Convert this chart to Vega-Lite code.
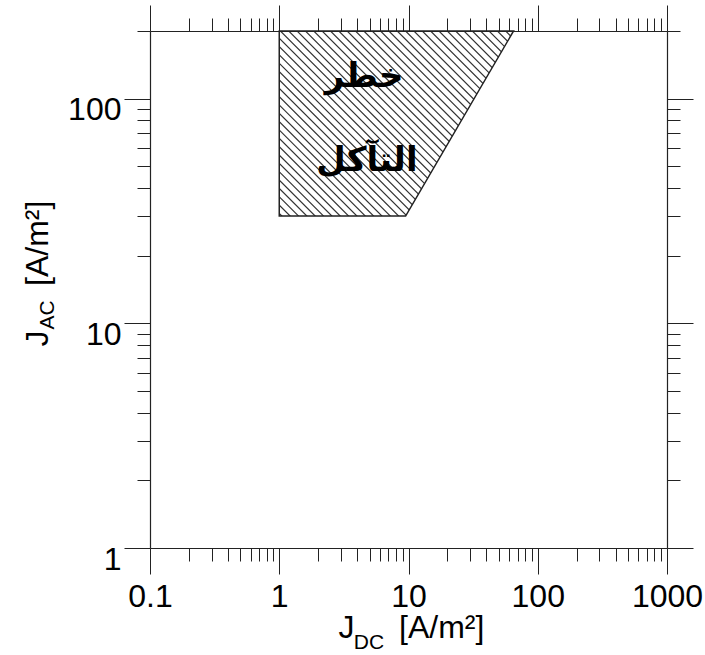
{
  "$schema": "https://vega.github.io/schema/vega-lite/v6.json",
  "width": 517,
  "height": 517,
  "autosize": {"type": "none"},
  "padding": {"left": 150, "top": 31, "right": 38, "bottom": 107},
  "background": "white",
  "config": {"view": {"stroke": null}},
  "data": {"values": [{}]},
  "datasets": {
    "region": [
      {"jac": 30, "jdc_lo": 1, "jdc_hi": 9.5},
      {"jac": 200, "jdc_lo": 1, "jdc_hi": 65}
    ]
  },
  "resolve": {"axis": {"x": "independent", "y": "independent"}},
  "layer": [
    {
      "mark": {"type": "rule", "stroke": "#333", "strokeWidth": 320, "strokeDash": [1.2, 4.7], "strokeCap": "butt", "clip": true},
      "encoding": {
        "x": {"datum": 0.94, "type": "quantitative", "scale": {"type": "log", "domain": [0.1, 1000], "nice": false}, "axis": null},
        "y": {"datum": 22.5, "type": "quantitative", "scale": {"type": "log", "domain": [1, 200], "nice": false}, "axis": null},
        "x2": {"datum": 68.1},
        "y2": {"datum": 264.4}
      }
    },
    {
      "mark": {"type": "rect", "fill": "white", "stroke": null},
      "encoding": {
        "x": {"datum": 0.1, "type": "quantitative", "scale": {"type": "log", "domain": [0.1, 1000], "nice": false}, "axis": null},
        "x2": {"datum": 1},
        "y": {"datum": 1, "type": "quantitative", "scale": {"type": "log", "domain": [1, 200], "nice": false}, "axis": null},
        "y2": {"datum": 200}
      }
    },
    {
      "mark": {"type": "rect", "fill": "white", "stroke": null},
      "encoding": {
        "x": {"datum": 0.1, "type": "quantitative", "scale": {"type": "log", "domain": [0.1, 1000], "nice": false}, "axis": null},
        "x2": {"datum": 1000},
        "y": {"datum": 1, "type": "quantitative", "scale": {"type": "log", "domain": [1, 200], "nice": false}, "axis": null},
        "y2": {"datum": 30}
      }
    },
    {
      "data": {"name": "region"},
      "mark": {"type": "area", "orient": "horizontal", "fill": "white", "stroke": null},
      "encoding": {
        "y": {"field": "jac", "type": "quantitative", "scale": {"type": "log", "domain": [1, 200], "nice": false}, "axis": null},
        "x": {"field": "jdc_hi", "type": "quantitative", "scale": {"type": "log", "domain": [0.1, 1000], "nice": false}, "axis": null},
        "x2": {"datum": 1000}
      }
    },
    {
      "data": {"name": "region"},
      "mark": {"type": "area", "orient": "horizontal", "fillOpacity": 0, "stroke": "#222", "strokeWidth": 1.5},
      "encoding": {
        "y": {
          "field": "jac", "type": "quantitative",
          "scale": {"type": "log", "domain": [1, 200], "nice": false},
          "axis": {
            "orient": "left",
            "values": [1, 2, 3, 4, 5, 6, 7, 8, 9, 10, 20, 30, 40, 50, 60, 70, 80, 90, 100, 200],
            "tickSize": {"condition": {"test": "indexof([1, 10, 100], datum.value) >= 0", "value": 26}, "value": 13},
            "tickColor": "#222",
            "tickWidth": 1,
            "domainColor": "#222",
            "domainWidth": 1.2,
            "grid": false,
            "labelExpr": "indexof([1, 10, 100], datum.value) >= 0 ? format(datum.value, '~g') : ''",
            "labelFont": "Liberation Sans",
            "labelFontSize": 32,
            "labelColor": "black",
            "labelPadding": 3,
            "labelBaseline": "top",
            "labelOffset": -4,
            "labelOverlap": false,
            "labelFlush": false,
            "labelBound": false,
            "title": "J\u00a0\u00a0\u00a0\u00a0\u00a0[A/m²]",
            "titleFont": "Liberation Sans",
            "titleFontSize": 32,
            "titleFontWeight": "normal",
            "titleColor": "black",
            "titleAngle": 270,
            "titleAlign": "center",
            "titleBaseline": "alphabetic",
            "titleX": -103,
            "titleY": 242,
            "zindex": 1
          }
        },
        "x": {
          "field": "jdc_lo", "type": "quantitative",
          "scale": {"type": "log", "domain": [0.1, 1000], "nice": false},
          "axis": {
            "orient": "bottom",
            "values": [0.1, 0.2, 0.3, 0.4, 0.5, 0.6, 0.7, 0.8, 0.9, 1, 2, 3, 4, 5, 6, 7, 8, 9, 10, 20, 30, 40, 50, 60, 70, 80, 90, 100, 200, 300, 400, 500, 600, 700, 800, 900, 1000],
            "tickSize": {"condition": {"test": "indexof([0.1, 1, 10, 100, 1000], datum.value) >= 0", "value": 26}, "value": 13},
            "tickColor": "#222",
            "tickWidth": 1,
            "domainColor": "#222",
            "domainWidth": 1.2,
            "grid": false,
            "labelExpr": "indexof([0.1, 1, 10, 100, 1000], datum.value) >= 0 ? format(datum.value, '~g') : ''",
            "labelFont": "Liberation Sans",
            "labelFontSize": 32,
            "labelColor": "black",
            "labelPadding": 7,
            "labelOverlap": false,
            "labelFlush": false,
            "labelBound": false,
            "title": "J\u00a0\u00a0\u00a0\u00a0\u00a0[A/m²]",
            "titleFont": "Liberation Sans",
            "titleFontSize": 32,
            "titleFontWeight": "normal",
            "titleColor": "black",
            "titleAlign": "center",
            "titleBaseline": "alphabetic",
            "titleX": 261,
            "titleY": 89,
            "zindex": 1
          }
        },
        "x2": {"field": "jdc_hi"}
      }
    },
    {
      "mark": {"type": "point", "opacity": 0},
      "encoding": {
        "x": {
          "datum": 1, "type": "quantitative",
          "scale": {"type": "log", "domain": [0.1, 1000], "nice": false},
          "axis": {
            "orient": "top",
            "values": [0.1, 0.2, 0.3, 0.4, 0.5, 0.6, 0.7, 0.8, 0.9, 1, 2, 3, 4, 5, 6, 7, 8, 9, 10, 20, 30, 40, 50, 60, 70, 80, 90, 100, 200, 300, 400, 500, 600, 700, 800, 900, 1000],
            "tickSize": {"condition": {"test": "indexof([0.1, 1, 10, 100, 1000], datum.value) >= 0", "value": 26}, "value": 13},
            "tickColor": "#222",
            "tickWidth": 1,
            "domainColor": "#222",
            "domainWidth": 1.2,
            "grid": false,
            "labels": false,
            "title": null,
            "zindex": 1
          }
        },
        "y": {
          "datum": 1, "type": "quantitative",
          "scale": {"type": "log", "domain": [1, 200], "nice": false},
          "axis": {
            "orient": "right",
            "values": [1, 2, 3, 4, 5, 6, 7, 8, 9, 10, 20, 30, 40, 50, 60, 70, 80, 90, 100, 200],
            "tickSize": {"condition": {"test": "indexof([1, 10, 100], datum.value) >= 0", "value": 26}, "value": 13},
            "tickColor": "#222",
            "tickWidth": 1,
            "domainColor": "#222",
            "domainWidth": 1.2,
            "grid": false,
            "labels": false,
            "title": null,
            "zindex": 1
          }
        }
      }
    },
    {
      "mark": {"type": "text", "text": "خطر", "font": "DejaVu Sans", "fontWeight": "bold", "fontSize": 34, "align": "center", "baseline": "middle", "color": "black"},
      "encoding": {
        "x": {"datum": 4.53, "type": "quantitative", "scale": {"type": "log", "domain": [0.1, 1000], "nice": false}, "axis": null},
        "y": {"datum": 125.3, "type": "quantitative", "scale": {"type": "log", "domain": [1, 200], "nice": false}, "axis": null}
      }
    },
    {
      "mark": {"type": "text", "text": "التآكل", "font": "DejaVu Sans", "fontWeight": "bold", "fontSize": 34, "align": "center", "baseline": "middle", "color": "black"},
      "encoding": {
        "x": {"datum": 4.77, "type": "quantitative", "scale": {"type": "log", "domain": [0.1, 1000], "nice": false}, "axis": null},
        "y": {"datum": 52.9, "type": "quantitative", "scale": {"type": "log", "domain": [1, 200], "nice": false}, "axis": null}
      }
    },
    {
      "mark": {"type": "text", "text": "DC", "font": "Liberation Sans", "fontSize": 21, "align": "center", "baseline": "alphabetic", "dy": 101, "color": "black"},
      "encoding": {
        "x": {"datum": 4.95, "type": "quantitative", "scale": {"type": "log", "domain": [0.1, 1000], "nice": false}, "axis": null},
        "y": {"datum": 1, "type": "quantitative", "scale": {"type": "log", "domain": [1, 200], "nice": false}, "axis": null}
      }
    },
    {
      "mark": {"type": "text", "text": "AC", "font": "Liberation Sans", "fontSize": 21, "align": "center", "baseline": "alphabetic", "angle": 270, "dy": -96, "color": "black"},
      "encoding": {
        "x": {"datum": 0.1, "type": "quantitative", "scale": {"type": "log", "domain": [0.1, 1000], "nice": false}, "axis": null},
        "y": {"datum": 10.91, "type": "quantitative", "scale": {"type": "log", "domain": [1, 200], "nice": false}, "axis": null}
      }
    }
  ]
}
